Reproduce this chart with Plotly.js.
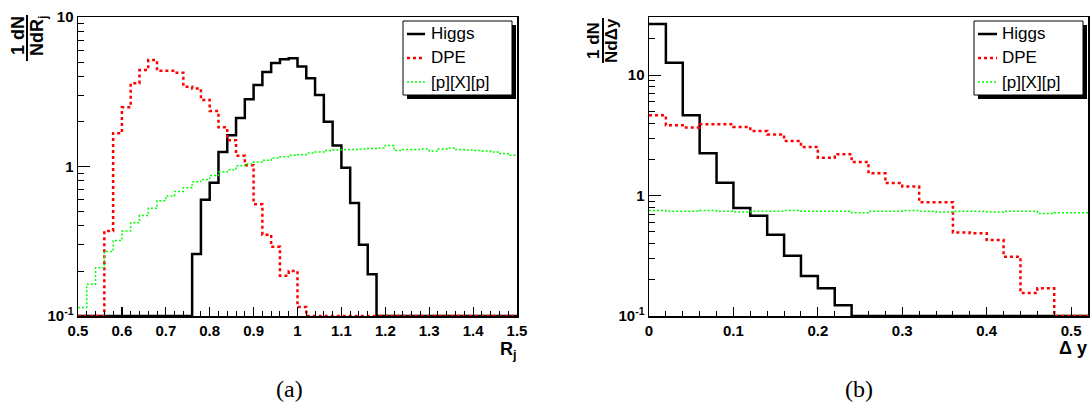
<!DOCTYPE html>
<html>
<head>
<meta charset="utf-8">
<script src="https://cdn.plot.ly/plotly-3.0.1.min.js"></script>
<style>
  html, body { margin: 0; padding: 0; background: #ffffff; }
  #chart { width: 1090px; height: 412px; }
</style>
</head>
<body>
<div id="chart"></div>
<script>
// ---------------- DATA ----------------
// Panel (a): R_j distribution, 50 bins of 0.02 from 0.5 to 1.5
const rjBinLow = 0.5;
const rjBinWidth = 0.02;
const rjHiggs = [
  0,0,0,0,0,0,0,0,0,0,0,0,0,
  0.26,0.60,0.78,1.25,1.62,2.11,2.82,3.51,4.29,4.92,5.21,5.30,4.66,3.89,3.01,1.99,1.38,0.98,0.57,0.30,0.19,
  0,0,0,0,0,0,0,0,0,0,0,0,0,0,0,0
];
const rjDPE = [
  0,0,0,
  0.37,1.67,2.49,3.60,4.42,5.15,4.37,4.37,4.24,3.42,3.33,2.79,2.35,1.83,1.50,1.18,1.02,0.56,0.35,0.29,0.186,0.20,0.115,
  0,0,0,0,0,0,0,0,0,0,0,0,0,0,0,0,0,0,0,0,0,0,0,0
];
const rjPXP = [
  0.114,0.163,0.21,0.27,0.32,0.37,0.42,0.47,0.525,0.59,
  0.635,0.68,0.72,0.79,0.82,0.87,0.92,0.95,1.01,1.04,
  1.07,1.10,1.14,1.16,1.19,1.20,1.23,1.25,1.28,1.29,
  1.30,1.30,1.31,1.32,1.33,1.38,1.28,1.30,1.30,1.31,
  1.27,1.31,1.33,1.30,1.29,1.28,1.27,1.25,1.22,1.19
];

// Panel (b): Delta y distribution, 26 bins of 0.02 from 0 to 0.52
const dyBinLow = 0;
const dyBinWidth = 0.02;
const dyHiggs = [26.6,12.7,4.64,2.25,1.28,0.79,0.68,0.473,0.316,0.215,0.17,0.123,0,0,0,0,0,0,0,0,0,0,0,0,0,0];
const dyDPE = [4.64,3.83,3.67,3.91,3.91,3.71,3.43,3.21,2.84,2.53,2.06,2.20,1.90,1.53,1.27,1.19,0.88,0.88,0.494,0.486,0.427,0.31,0.155,0.17,0,0];
const dyPXP = [0.75,0.74,0.74,0.75,0.74,0.73,0.74,0.74,0.75,0.74,0.74,0.74,0.72,0.74,0.74,0.75,0.74,0.73,0.74,0.74,0.73,0.74,0.74,0.71,0.72,0.72];

const seriesNames = ["Higgs", "DPE", "[p][X][p]"];

// ---------------- STYLE ----------------
const W = 1090, H = 412;
const px = x => x / W;
const py = y => 1 - y / H;
const SANS = "Liberation Sans, Arial, sans-serif";
const styles = [
  {color: "#000000", width: 2.5, dash: "solid"},
  {color: "#ff0000", width: 2.5, dash: "3px,3px"},
  {color: "#00ff00", width: 1.5, dash: "2px,2px"}
];
const yFloor = 0.1;

function steps(lo, w, vals) {
  const xs = [], ys = [];
  for (let i = 0; i < vals.length; i++) {
    xs.push(lo + i * w);
    ys.push(Math.max(vals[i], yFloor));
  }
  xs.push(lo + vals.length * w);
  ys.push(Math.max(vals[vals.length - 1], yFloor));
  return {xs, ys};
}

const traces = [];
[[rjHiggs, rjDPE, rjPXP, rjBinLow, rjBinWidth, "x", "y"],
 [dyHiggs, dyDPE, dyPXP, dyBinLow, dyBinWidth, "x2", "y2"]].forEach(p => {
  [p[0], p[1], p[2]].forEach((vals, k) => {
    const s = steps(p[3], p[4], vals);
    traces.push({
      type: "scatter", mode: "lines", x: s.xs, y: s.ys,
      xaxis: p[5], yaxis: p[6], name: seriesNames[k], showlegend: false,
      line: {shape: "hv", color: styles[k].color, width: styles[k].width, dash: styles[k].dash},
      hoverinfo: "skip"
    });
  });
});

const tickFont = {family: SANS, size: 15, color: "#000", weight: "bold"};

function xAxis(domain, range, anchor) {
  return {
    domain: domain, range: range, anchor: anchor,
    tickmode: "linear", tick0: 0, dtick: 0.1,
    ticks: "inside", ticklen: 9, tickwidth: 1.2, tickcolor: "#000",
    minor: {tickmode: "linear", tick0: 0, dtick: 0.02, ticks: "inside", ticklen: 5, tickwidth: 1, tickcolor: "#000"},
    showline: true, linecolor: "#000", linewidth: 1.5, mirror: true,
    showgrid: false, zeroline: false, tickfont: tickFont, fixedrange: true
  };
}
function yAxis(domain, range, anchor, majors, labels, minors) {
  return {
    domain: domain, type: "log", range: range, anchor: anchor,
    tickmode: "array", tickvals: majors, ticktext: labels,
    ticks: "inside", ticklen: 12, tickwidth: 1.2, tickcolor: "#000",
    minor: {tickmode: "array", tickvals: minors, ticks: "inside", ticklen: 6, tickwidth: 1, tickcolor: "#000"},
    showline: true, linecolor: "#000", linewidth: 1.5, mirror: true,
    showgrid: false, zeroline: false, tickfont: tickFont, fixedrange: true
  };
}

const minorsL = [0.2,0.3,0.4,0.5,0.6,0.7,0.8,0.9,2,3,4,5,6,7,8,9];
const minorsR = [0.2,0.3,0.4,0.5,0.6,0.7,0.8,0.9,2,3,4,5,6,7,8,9,20,30];
const yDomain = [py(316), py(17)];

const shapes = [];
const annotations = [];

function legend(x0, x1, y0, y1, sx0, sx1, tx, rows) {
  shapes.push({type: "rect", xref: "paper", yref: "paper", layer: "above",
    x0: px(x0 + 4), x1: px(x1 + 4), y0: py(y1 + 4), y1: py(y0 + 4),
    fillcolor: "#000", line: {width: 0}});
  shapes.push({type: "rect", xref: "paper", yref: "paper", layer: "above",
    x0: px(x0), x1: px(x1), y0: py(y1), y1: py(y0),
    fillcolor: "#fff", line: {color: "#000", width: 1}});
  rows.forEach((ry, k) => {
    shapes.push({type: "line", xref: "paper", yref: "paper", layer: "above",
      x0: px(sx0), x1: px(sx1), y0: py(ry), y1: py(ry),
      line: {color: styles[k].color, width: styles[k].width, dash: styles[k].dash}});
    annotations.push({xref: "paper", yref: "paper", x: px(tx), y: py(ry),
      xanchor: "left", yanchor: "middle", showarrow: false, text: seriesNames[k],
      font: {family: SANS, size: 17, color: "#000"}});
  });
}
legend(403, 512, 21, 95, 407, 425, 429, [34, 58, 82]);
legend(974, 1083, 21, 95, 978, 997, 1000, [34, 58, 82]);

// y-axis fraction titles
function fracTitle(xNum, xDen, yc, yTop, yBot, xBar, num, den, size) {
  const f = {family: SANS, size: size, color: "#000", weight: "bold"};
  annotations.push({xref: "paper", yref: "paper", x: px(xNum), y: py(yc), xanchor: "center", yanchor: "middle",
    textangle: -90, showarrow: false, text: num, font: f});
  annotations.push({xref: "paper", yref: "paper", x: px(xDen), y: py(yc), xanchor: "center", yanchor: "middle",
    textangle: -90, showarrow: false, text: den, font: f});
  shapes.push({type: "line", xref: "paper", yref: "paper", x0: px(xBar), x1: px(xBar),
    y0: py(yBot), y1: py(yTop), line: {color: "#000", width: 2}});
}
fracTitle(18, 39, 36, 15, 61, 27, "1 dN", "NdR<sub>j</sub>", 18);
fracTitle(594, 612, 41, 18, 63, 603, "1 dN", "NdΔy", 17);

// x-axis titles
annotations.push({xref: "paper", yref: "paper", x: px(519), y: py(350), xanchor: "right", yanchor: "middle",
  showarrow: false, text: "R<sub>j</sub>", font: {family: SANS, size: 18, color: "#000", weight: "bold"}});
annotations.push({xref: "paper", yref: "paper", x: px(1089), y: py(348), xanchor: "right", yanchor: "middle",
  showarrow: false, text: "Δ y", font: {family: SANS, size: 18, color: "#000", weight: "bold"}});

// panel labels
annotations.push({xref: "paper", yref: "paper", x: px(289), y: py(389), xanchor: "center", yanchor: "middle",
  showarrow: false, text: "(a)", font: {family: "Liberation Serif, DejaVu Serif, serif", size: 24, color: "#000"}});
annotations.push({xref: "paper", yref: "paper", x: px(859), y: py(389), xanchor: "center", yanchor: "middle",
  showarrow: false, text: "(b)", font: {family: "Liberation Serif, DejaVu Serif, serif", size: 24, color: "#000"}});

const layout = {
  width: W, height: H,
  margin: {l: 0, r: 0, t: 0, b: 0},
  paper_bgcolor: "#fff", plot_bgcolor: "#fff",
  showlegend: false,
  xaxis: xAxis([px(78), px(517)], [0.5, 1.5], "y"),
  yaxis: yAxis(yDomain, [-1, 1], "x", [0.1, 1, 10], ["10<sup>-1</sup>", "1", "10"], minorsL),
  xaxis2: xAxis([px(649), px(1088)], [0, 0.52], "y2"),
  yaxis2: yAxis(yDomain, [-1, Math.log10(30.4)], "x2", [0.1, 1, 10], ["10<sup>-1</sup>", "1", "10"], minorsR),
  shapes: shapes,
  annotations: annotations
};

Plotly.newPlot("chart", traces, layout, {staticPlot: true, displayModeBar: false});
</script>
</body>
</html>
